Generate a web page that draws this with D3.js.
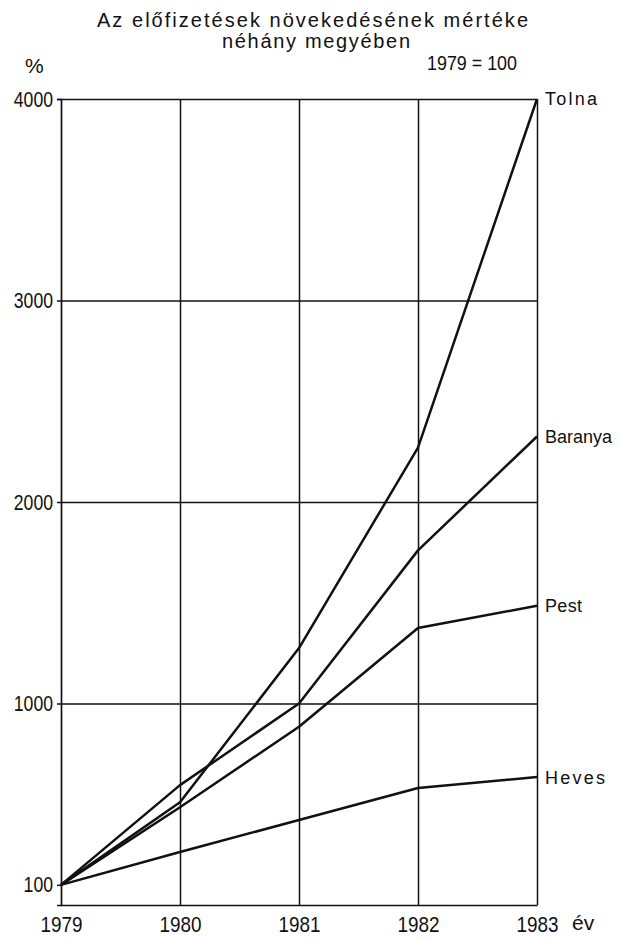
<!DOCTYPE html>
<html>
<head>
<meta charset="utf-8">
<script src="https://cdn.jsdelivr.net/npm/d3@7"></script>
<style>
  body { margin: 0; background: #fff; }
  svg { display: block; }
  text { font-family: "Liberation Sans", "DejaVu Sans", sans-serif; fill: #111; }
</style>
</head>
<body>
<svg id="chart"></svg>
<script>
// years on the x axis, index 1979 = 100
const years = [1979, 1980, 1981, 1982, 1983];
const tolna = [100, 510, 1275, 2270, 4000];
const baranya = [100, 595, 1000, 1760, 2325];
const pest = [100, 485, 885, 1375, 1485];
const heves = [100, 263, 422, 581, 635];
const seriesNames = ["Tolna", "Baranya", "Pest", "Heves"];
const yTicks = [100, 1000, 2000, 3000, 4000];
const yGrid = [1000, 2000, 3000, 4000];

const width = 626, height = 939;
const margin = {top: 99, right: 89, bottom: 34, left: 61};

const svg = d3.select("#chart")
    .attr("width", width)
    .attr("height", height);

const x = d3.scaleLinear()
    .domain([1979, 1983])
    .range([margin.left, width - margin.right]);

const y = d3.scaleLinear()
    .domain([0, 4000])
    .range([height - margin.bottom, margin.top]);

const innerW = x.range()[1] - x.range()[0];
const innerH = y.range()[0] - y.range()[1];

// horizontal grid
svg.append("g")
    .attr("transform", `translate(${margin.left},0)`)
    .call(d3.axisLeft(y).tickValues(yGrid).tickSize(-innerW).tickFormat(""))
    .call(g => g.select(".domain").remove())
    .call(g => g.selectAll("line").attr("stroke", "#111").attr("stroke-width", 1.5));

// vertical grid
svg.append("g")
    .attr("transform", `translate(0,${y(0)})`)
    .call(d3.axisBottom(x).tickValues(years.slice(1)).tickSize(-innerH).tickFormat(""))
    .call(g => g.select(".domain").remove())
    .call(g => g.selectAll("line").attr("stroke", "#111").attr("stroke-width", 1.5));

// left axis with ticks (narrow hand lettering -> squeeze the glyphs)
svg.append("g")
    .attr("transform", `translate(${margin.left},0)`)
    .call(d3.axisLeft(y).tickValues(yTicks).tickSize(4).tickPadding(4)
        .tickFormat(d3.format("d")))
    .call(g => g.select(".domain").attr("stroke", "#111").attr("stroke-width", 1.7))
    .call(g => g.selectAll("line").attr("stroke", "#111").attr("stroke-width", 1.5))
    .call(g => g.selectAll("text")
        .attr("font-size", 22).attr("fill", "#111")
        .attr("textLength", d => String(d).length * 9.8)
        .attr("lengthAdjust", "spacingAndGlyphs"));

// bottom axis
svg.append("g")
    .attr("transform", `translate(0,${y(0)})`)
    .call(d3.axisBottom(x).tickValues(years).tickSize(0).tickPadding(11)
        .tickFormat(d3.format("d")))
    .call(g => g.select(".domain").attr("stroke", "#111").attr("stroke-width", 1.7))
    .call(g => g.selectAll("text")
        .attr("font-size", 22).attr("fill", "#111")
        .attr("textLength", 42)
        .attr("lengthAdjust", "spacingAndGlyphs"));

// series lines
const seriesValues = [tolna, baranya, pest, heves];
const series = seriesNames.map((name, i) => ({
    name: name,
    values: years.map((yr, j) => ({year: yr, value: seriesValues[i][j]}))
}));

const line = d3.line()
    .x(d => x(d.year))
    .y(d => y(d.value));

svg.append("g")
    .selectAll("path").data(series).enter().append("path")
    .attr("d", d => line(d.values))
    .attr("fill", "none")
    .attr("stroke", "#111")
    .attr("stroke-width", 2.5)
    .attr("stroke-linejoin", "round");

// labels at the line ends
const labelLen = {Tolna: 52, Baranya: 67, Pest: 37, Heves: 60};
svg.append("g")
    .selectAll("text").data(series).enter().append("text")
    .attr("x", x(1983) + 8)
    .attr("y", d => y(d.values[d.values.length - 1].value))
    .attr("dy", "0.36em")
    .attr("font-size", 18)
    .attr("textLength", d => labelLen[d.name])
    .attr("lengthAdjust", "spacing")
    .text(d => d.name);

// titles
svg.append("text")
    .attr("x", 97).attr("y", 27)
    .attr("font-size", 20)
    .attr("textLength", 431).attr("lengthAdjust", "spacing")
    .text("Az előfizetések növekedésének mértéke");

svg.append("text")
    .attr("x", 222).attr("y", 48)
    .attr("font-size", 20)
    .attr("textLength", 188).attr("lengthAdjust", "spacing")
    .text("néhány megyében");

svg.append("text")
    .attr("x", 25).attr("y", 73)
    .attr("font-size", 21)
    .text("%");

svg.append("text")
    .attr("x", 427).attr("y", 70)
    .attr("font-size", 20)
    .attr("textLength", 90).attr("lengthAdjust", "spacingAndGlyphs")
    .text("1979 = 100");

svg.append("text")
    .attr("x", 572).attr("y", 930)
    .attr("font-size", 21)
    .text("év");
</script>
</body>
</html>
